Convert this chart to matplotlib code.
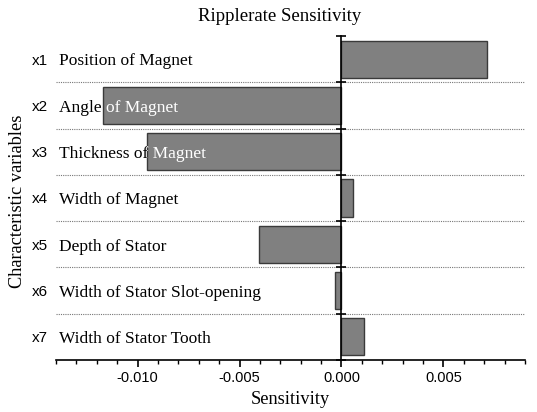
import numpy as np
import matplotlib.pyplot as plt
from matplotlib.transforms import blended_transform_factory

codes = ["x1", "x2", "x3", "x4", "x5", "x6", "x7"]
names = [
    "Position of Magnet",
    "Angle of Magnet",
    "Thickness of Magnet",
    "Width of Magnet",
    "Depth of Stator",
    "Width of Stator Slot-opening",
    "Width of Stator Tooth",
]
sensitivity = [0.00712, -0.0117, -0.00956, 0.00057, -0.00405, -0.00033, 0.00109]

SERIF = "Liberation Serif"
SANS = "Liberation Sans"

fig = plt.figure(figsize=(5.37, 4.12), dpi=100)
ax = fig.add_axes([0.1043, 0.1262, 0.8734, 0.7864])

y = np.arange(len(codes))
bars = ax.barh(y, sensitivity, height=0.8, color="#808080",
               edgecolor="#3a3a3a", linewidth=1.0, zorder=2)

ax.set_xlim(-0.014, 0.009)
ax.set_ylim(len(codes) - 0.5, -0.5)

# dotted separators between rows
for b in np.arange(0.5, len(codes) - 0.5, 1.0):
    ax.axhline(b, color="#777777", linestyle=(0, (1, 1)), linewidth=0.8, zorder=1)

# spines
ax.spines["top"].set_visible(False)
ax.spines["right"].set_visible(False)
ax.spines["left"].set_position(("data", 0))
ax.spines["left"].set_linewidth(1.2)
ax.spines["left"].set_zorder(3)
ax.spines["bottom"].set_linewidth(1.2)

ax.set_yticks(np.arange(-0.5, len(codes), 1.0))
ax.set_yticklabels([])
ax.tick_params(axis="y", direction="inout", length=7, width=1.2)

ax.set_xticks([-0.010, -0.005, 0.000, 0.005])
ax.set_xticklabels(["-0.010", "-0.005", "0.000", "0.005"], fontfamily=SANS, fontsize=10.5)
ax.set_xticks(np.arange(-0.014, 0.0091, 0.001), minor=True)
ax.tick_params(axis="x", which="major", direction="out", length=5, width=1.2, pad=3)
ax.tick_params(axis="x", which="minor", direction="out", length=3, width=1.0)

trans = blended_transform_factory(ax.transAxes, ax.transData)
for i, (code, name) in enumerate(zip(codes, names)):
    ax.text(-0.017, i + 0.03, code, transform=trans, ha="right", va="center",
            fontfamily=SANS, fontsize=11, clip_on=False)
    ax.text(0.006, i + 0.05, name, transform=trans, ha="left", va="center",
            fontfamily=SERIF, fontsize=12.5, color="black", zorder=1)
    # part of the label covered by a bar is shown in white
    t = ax.text(0.006, i + 0.05, name, transform=trans, ha="left", va="center",
                fontfamily=SERIF, fontsize=12.5, color="white", zorder=4)
    t.set_clip_on(True)
    t.set_clip_path(bars[i])

fig.text(0.54, 0.03, "Sensitivity", ha="center", va="center",
         fontfamily=SERIF, fontsize=13.2)
fig.text(0.0335, 0.511, "Characteristic variables", rotation=90, ha="center",
         va="center", fontfamily=SERIF, fontsize=13.2)
fig.text(0.521, 0.959, "Ripplerate Sensitivity", ha="center", va="center",
         fontfamily=SERIF, fontsize=13.5)

fig.savefig("out.png", dpi=100)
